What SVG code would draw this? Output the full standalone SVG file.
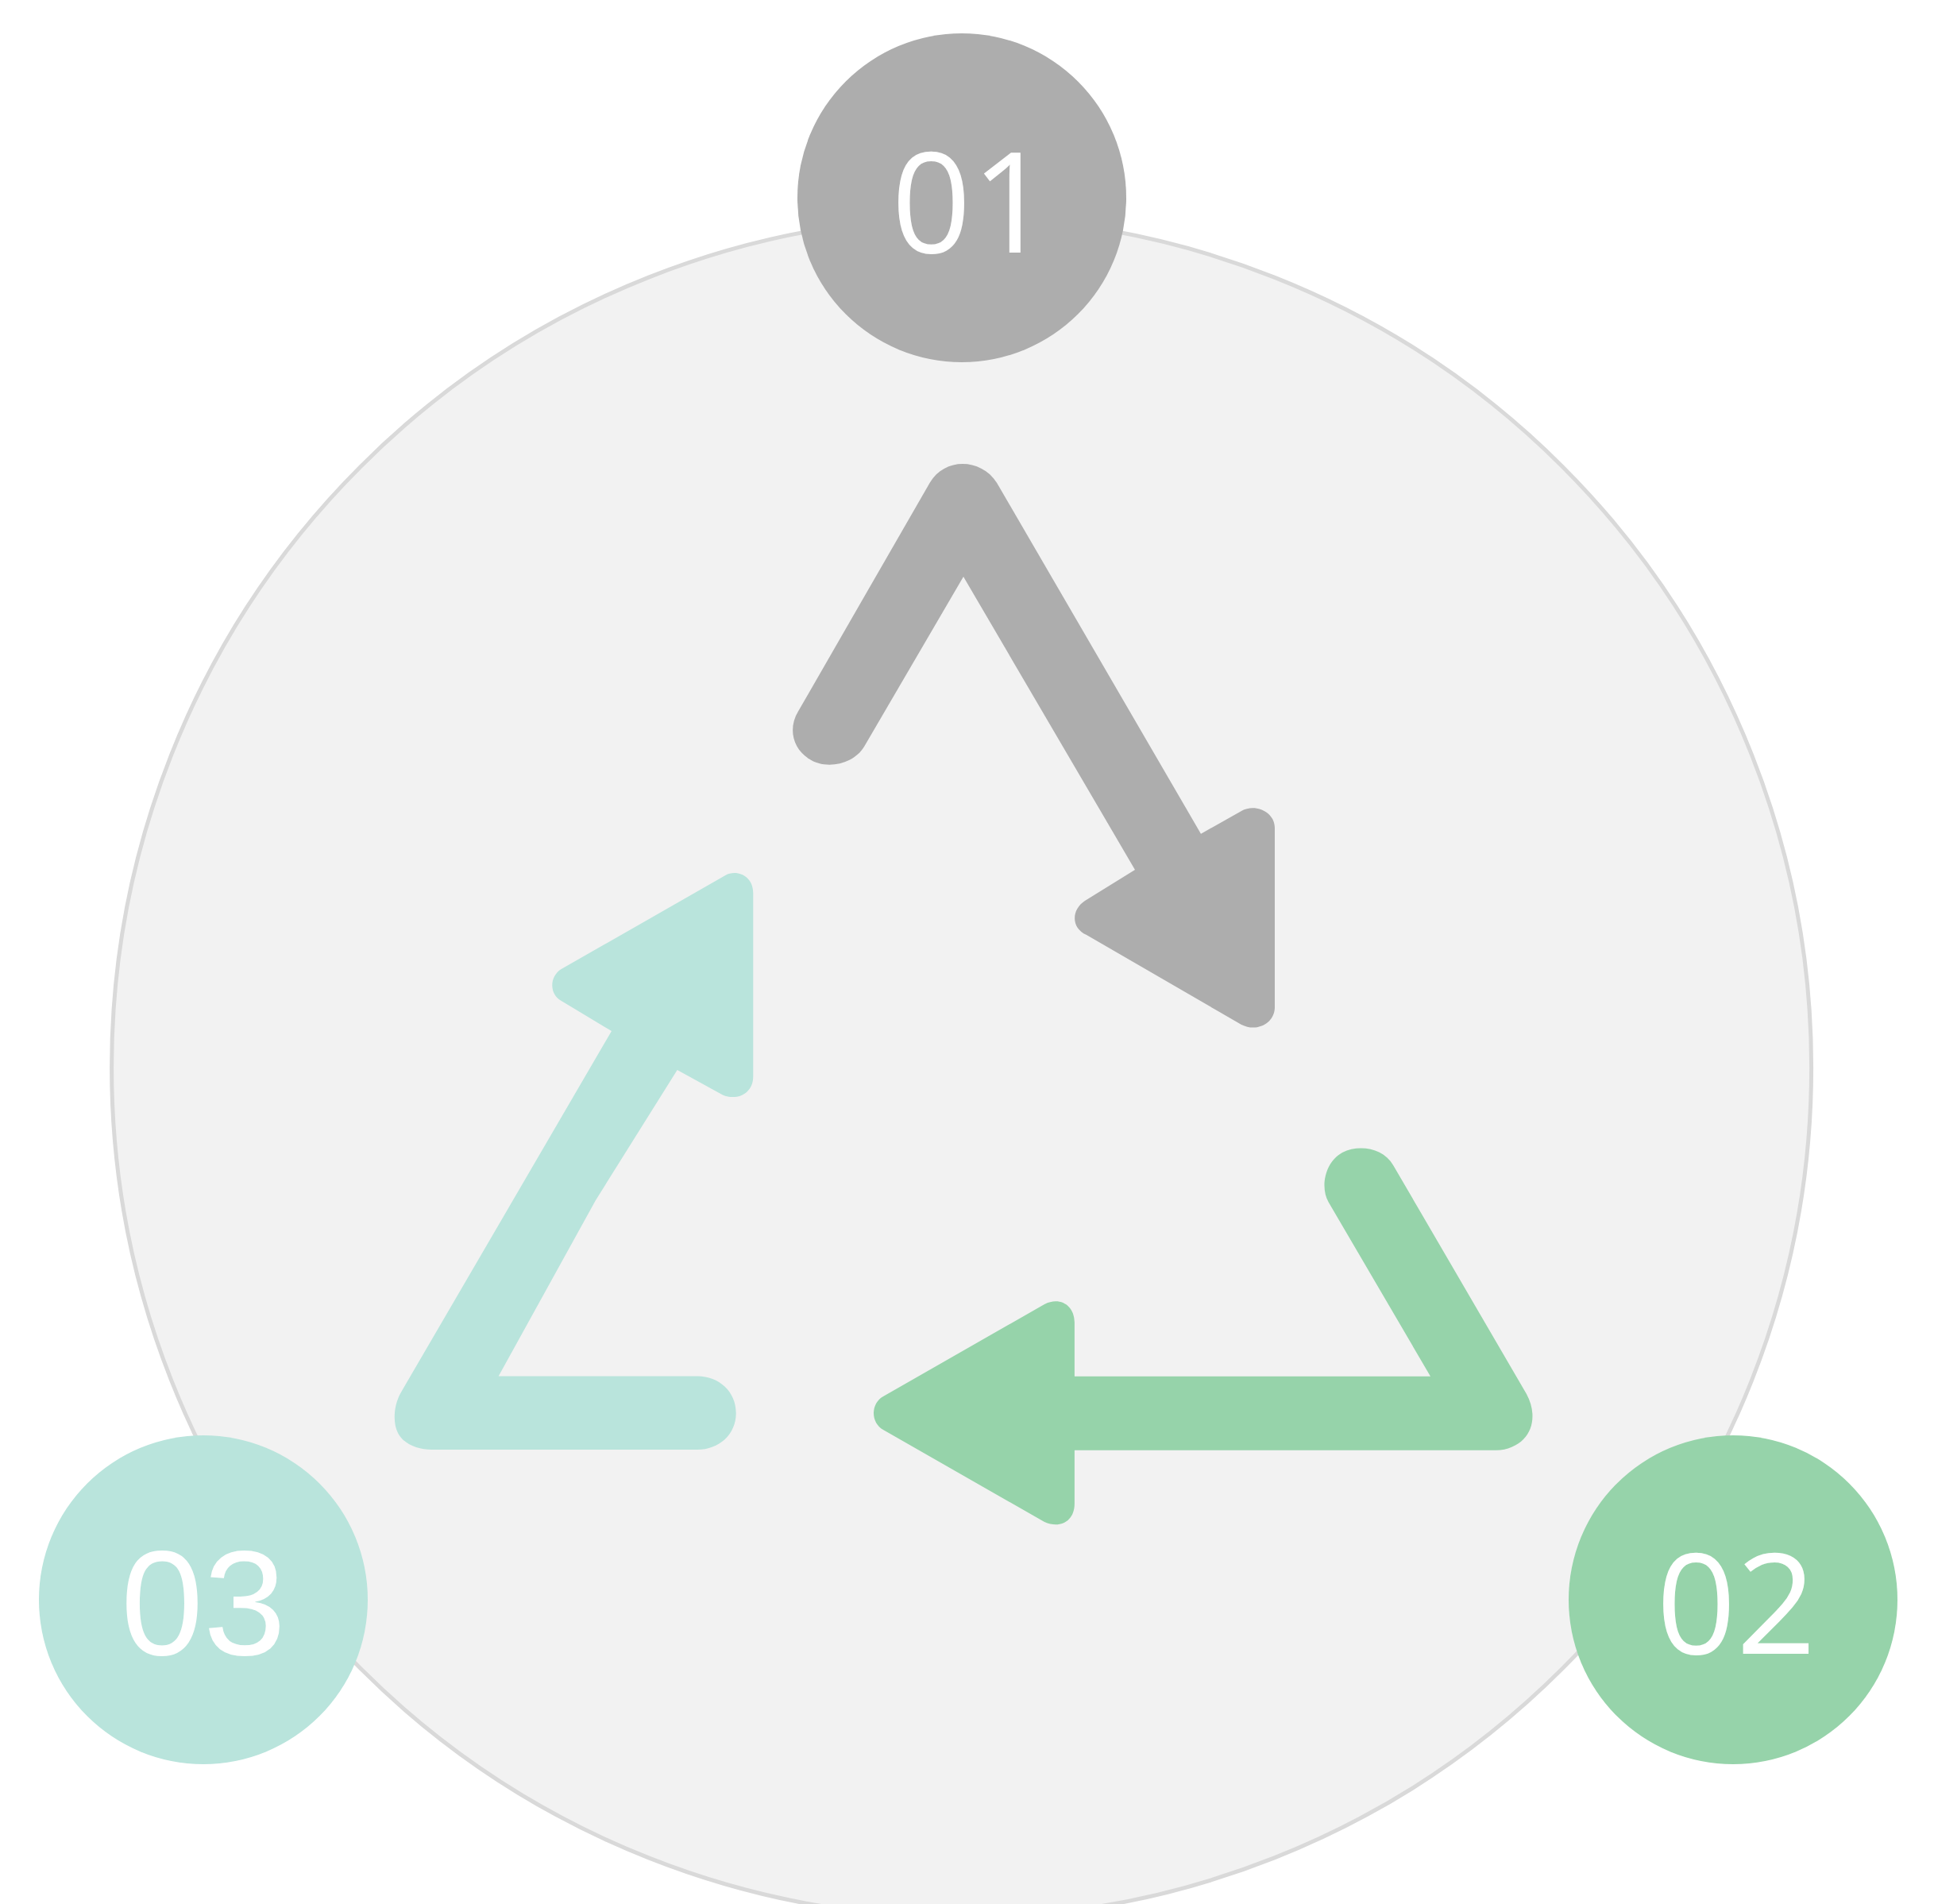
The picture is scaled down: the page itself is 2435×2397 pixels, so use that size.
<svg xmlns="http://www.w3.org/2000/svg" width="2435" height="2397" viewBox="0 0 2435 2397">
<style>
.num{fill:#ffffff;text-anchor:middle}
.os{font-family:"Open Sans","Noto Sans","Liberation Sans",sans-serif;font-size:176px}
.ls{font-family:"Liberation Sans",Arial,sans-serif;font-size:187px}
.gray{fill:#adadad}
.green{fill:#96d3aa}
.teal{fill:#b9e4dc}
</style>
<rect width="2435" height="2397" fill="#ffffff"/>
<g id="background">
<circle cx="1210.6" cy="1344" r="1070" fill="#f2f2f2" stroke="#d9d9d9" stroke-width="5"/>
</g>
<g id="connectors">
<path class="gray" d="M 1005,895.5 L 1170.7,607.7 C 1180,592 1196,584 1212,584 C 1228,584 1245,592 1255,607.7 L 1512,1049.7 L 1563,1021 C 1580,1011 1605,1022 1605,1042 L 1605,1268 C 1605,1288 1583,1300 1563,1290 L 1368,1177 C 1348,1168 1349,1145 1366,1134 L 1429,1095 L 1213,726 L 1088,940 C 1075,962 1040,970 1018,955 C 998,942 992,917 1005,895.5 Z"/>
<path class="green" d="M 1352.9,1732.7 L 1801,1732.7 L 1672.6,1513.3 C 1662,1495 1668,1463 1690,1451 C 1712,1440 1742,1446 1754,1466.7 L 1922,1755 C 1933,1775 1932,1798 1918,1812 C 1910,1820 1898,1825.7 1884,1825.7 L 1352.9,1825.7 L 1352.9,1893 C 1352.9,1915 1335,1925 1315,1916 L 1112,1800 C 1096,1791 1096,1767 1112,1758 L 1315,1642 C 1334,1632 1352.9,1643 1352.9,1665 Z"/>
<path class="teal" d="M 627.7,1732.6 L 878.3,1732.6 C 905,1732.6 926.7,1752 926.7,1779 C 926.7,1806 905,1825 878.3,1825 L 543.3,1825 C 526,1825 508,1818 501,1804 C 494,1790 496,1768 505,1752.7 L 770,1298 L 706.7,1260 C 691,1251 692,1229 706.7,1220 L 913.3,1102 C 928,1094 948.3,1103 948.3,1124 L 948.3,1355 C 948.3,1377 928,1386 910,1378.5 L 852.7,1347 L 750,1511 Z"/>
</g>
<g id="node-01">
<circle class="gray" cx="1211" cy="249" r="207"/>
<text class="num os" x="1223" y="318">01</text>
</g>
<g id="node-02">
<circle class="green" cx="2182" cy="2014" r="207"/>
<text class="num os" x="2186" y="2082">02</text>
</g>
<g id="node-03">
<circle class="teal" cx="256" cy="2014" r="207"/>
<text class="num ls" x="256" y="2083">03</text>
</g>
</svg>
